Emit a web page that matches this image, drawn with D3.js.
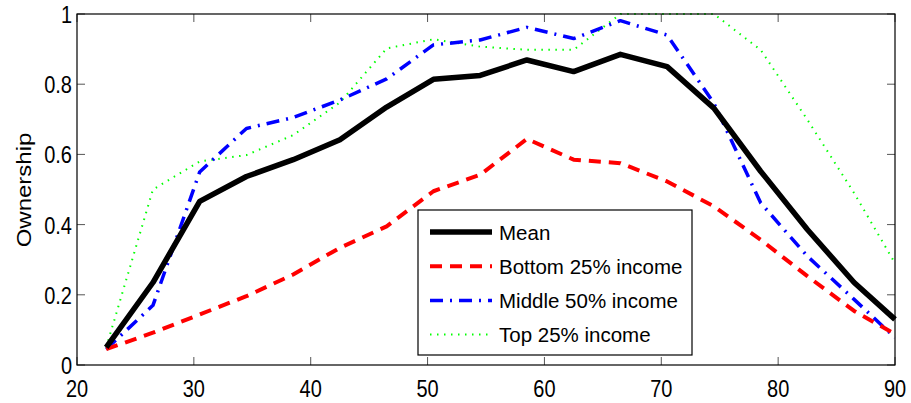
<!DOCTYPE html>
<html>
<head>
<meta charset="utf-8">
<script src="https://cdn.jsdelivr.net/npm/d3@7"></script>
<style>
  html, body { margin: 0; padding: 0; background: #fff; }
  svg { display: block; font-family: "Liberation Sans", Arial, sans-serif; }
</style>
</head>
<body>
<svg id="chart" width="911" height="403"></svg>
<script>
// Age bins (mid-points) and ownership rates by income group
const ages = [22.5, 26.5, 30.5, 34.5, 38.5, 42.5, 46.5, 50.5, 54.5, 58.5, 62.5, 66.5, 70.5, 74.5, 78.5, 82.5, 86.5, 90];
const meanOwn   = [0.05, 0.235, 0.466, 0.537, 0.585, 0.642, 0.735, 0.814, 0.825, 0.869, 0.836, 0.885, 0.850, 0.732, 0.552, 0.386, 0.235, 0.13];
const bottomOwn = [0.045, 0.092, 0.144, 0.196, 0.258, 0.334, 0.395, 0.495, 0.542, 0.644, 0.585, 0.575, 0.523, 0.452, 0.357, 0.253, 0.154, 0.088];
const middleOwn = [0.045, 0.17, 0.55, 0.674, 0.705, 0.755, 0.815, 0.912, 0.926, 0.962, 0.930, 0.981, 0.940, 0.746, 0.462, 0.310, 0.187, 0.078];
const topOwn    = [0.05, 0.50, 0.58, 0.598, 0.655, 0.748, 0.902, 0.928, 0.907, 0.898, 0.898, 1.0, 1.0, 1.0, 0.898, 0.699, 0.490, 0.29];

const xTicks = [20, 30, 40, 50, 60, 70, 80, 90];
const yTicks = [0, 0.2, 0.4, 0.6, 0.8, 1];
const yLabel = "Ownership";

const series = [
  { name: "Mean",               values: meanOwn,   color: "#000000", width: 5.5, dash: null },
  { name: "Bottom 25% income",  values: bottomOwn, color: "#ff0000", width: 4,   dash: "12,8" },
  { name: "Middle 50% income",  values: middleOwn, color: "#0000ff", width: 3.5, dash: "13,7,2,7" },
  { name: "Top 25% income",     values: topOwn,    color: "#00ff00", width: 2,   dash: "1.5,5.5" }
];

const svg = d3.select("#chart");
const W = 911, H = 403;
const m = { left: 77, right: 16, top: 14, bottom: 38 };
const iw = W - m.left - m.right, ih = H - m.top - m.bottom;

const x = d3.scaleLinear().domain([20, 90]).range([0, iw]);
const y = d3.scaleLinear().domain([0, 1]).range([ih, 0]);

const g = svg.append("g").attr("transform", `translate(${m.left},${m.top})`);

// inward ticks on all four sides
const tickLen = 8;
const tickG = g.append("g").attr("stroke", "#555").attr("stroke-width", 1);
xTicks.forEach(t => {
  tickG.append("line").attr("x1", x(t)).attr("x2", x(t)).attr("y1", ih).attr("y2", ih - tickLen);
  tickG.append("line").attr("x1", x(t)).attr("x2", x(t)).attr("y1", 0).attr("y2", tickLen);
});
yTicks.forEach(t => {
  tickG.append("line").attr("x1", 0).attr("x2", tickLen).attr("y1", y(t)).attr("y2", y(t));
  tickG.append("line").attr("x1", iw).attr("x2", iw - tickLen).attr("y1", y(t)).attr("y2", y(t));
});

// tick labels (slightly tall glyphs)
const sy = 1.2;
xTicks.forEach(t => {
  g.append("text")
    .attr("transform", `translate(${x(t)},${ih + 32}) scale(1,${sy})`)
    .attr("text-anchor", "middle")
    .attr("font-size", 20)
    .text(d3.format("d")(t));
});
yTicks.forEach(t => {
  g.append("text")
    .attr("transform", `translate(-5,${y(t) + 9}) scale(1,${sy})`)
    .attr("text-anchor", "end")
    .attr("font-size", 20)
    .text(t === 0 || t === 1 ? d3.format("d")(t) : d3.format(".1f")(t));
});

// y-axis title
svg.append("text")
  .attr("transform", `translate(31,190) rotate(-90) scale(${sy},1)`)
  .attr("text-anchor", "middle")
  .attr("font-size", 20)
  .text(yLabel);

// series lines
const line = d3.line().x((d, i) => x(ages[i])).y(d => y(d));
series.slice().reverse().forEach(s => {
  g.append("path")
    .datum(s.values)
    .attr("fill", "none")
    .attr("stroke", s.color)
    .attr("stroke-width", s.width)
    .attr("stroke-dasharray", s.dash)
    .attr("stroke-linejoin", "round")
    .attr("d", line);
});

// axes frame
g.append("rect").attr("x", 0).attr("y", 0).attr("width", iw).attr("height", ih)
  .attr("fill", "none").attr("stroke", "#000").attr("stroke-width", 1.2);

// legend
const lg = svg.append("g").attr("transform", "translate(418,210)");
lg.append("rect").attr("width", 274).attr("height", 145)
  .attr("fill", "#fff").attr("stroke", "#000").attr("stroke-width", 1.2);
series.forEach((s, i) => {
  const cy = 22 + i * 34.2;
  lg.append("line")
    .attr("x1", 12).attr("x2", 74).attr("y1", cy).attr("y2", cy)
    .attr("stroke", s.color).attr("stroke-width", s.width)
    .attr("stroke-dasharray", s.dash);
  lg.append("text")
    .attr("x", 81).attr("y", cy + 7.5)
    .attr("font-size", 20.5)
    .text(s.name);
});
</script>
</body>
</html>
